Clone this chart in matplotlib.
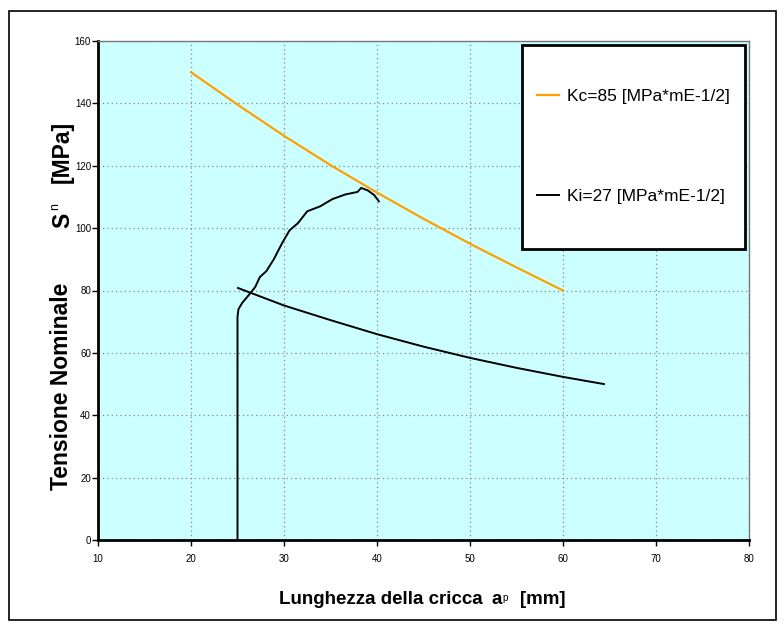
import matplotlib.pyplot as plt
from matplotlib.patches import Rectangle

# Kc curve (orange)
kc_x = [20, 25, 30, 35, 40, 45, 50, 55, 60]
kc_y = [150.0, 139.6, 129.6, 120.2, 111.4, 103.0, 95.0, 87.4, 80.0]

# Ki curve (black, decreasing)
ki_x = [25.05, 30, 35, 40, 45, 50, 55, 60, 64.4]
ki_y = [80.8, 75.2, 70.5, 66.0, 62.0, 58.4, 55.2, 52.3, 50.0]

# crack growth path (black)
gr_x = [25.0, 25.0, 25.1, 25.5, 26.2, 26.9, 27.2, 27.4, 28.1, 28.9, 29.8, 30.6,
        31.5, 32.5, 33.9, 35.2, 36.6, 37.9, 38.3, 39.0, 39.7, 40.2]
gr_y = [0.0, 71.5, 74.0, 76.0, 78.5, 81.1, 83.0, 84.3, 86.2, 90.0, 95.2, 99.3,
        101.6, 105.4, 107.0, 109.3, 110.8, 111.6, 112.9, 112.1, 110.6, 108.6]

kc_label = "Kc=85 [MPa*mE-1/2]"
ki_label = "Ki=27 [MPa*mE-1/2]"

plt.rcParams['font.family'] = ['Liberation Sans', 'DejaVu Sans']

W, H = 784, 625
fig = plt.figure(figsize=(W / 100, H / 100), dpi=100)
L, R, T, B = 98, 749, 41, 540
ax = fig.add_axes([L / W, 1 - B / H, (R - L) / W, (B - T) / H])
ax.set_facecolor('#CCFFFF')

ax.plot(kc_x, kc_y, color='#FFA000', lw=1.6, label=kc_label)
ax.plot(ki_x, ki_y, color='black', lw=1.4, label=ki_label)
ax.plot(gr_x, gr_y, color='black', lw=1.4)

ax.set_xlim(10, 80)
ax.set_ylim(0, 160)
ax.set_xticks(range(10, 81, 10))
ax.set_yticks(range(0, 161, 20))
ax.grid(True, color='#888888', linestyle=(0, (1, 2.5)), lw=0.9)
ax.tick_params(axis='x', labelsize=7, length=4, width=1, pad=6)
ax.tick_params(axis='y', labelsize=7, length=4, width=1, pad=1)

for s in ['top', 'right']:
    ax.spines[s].set_color('#777777')
    ax.spines[s].set_linewidth(1)
for s in ['left', 'bottom']:
    ax.spines[s].set_color('black')
    ax.spines[s].set_linewidth(2)

# legend frame drawn as a box, entries placed inside it
ax.add_patch(Rectangle(((522 - L) / (R - L), (B - 249) / (B - T)),
                       (745 - 522) / (R - L), (249 - 45) / (B - T),
                       transform=ax.transAxes, facecolor='white', edgecolor='black',
                       lw=2, zorder=4))
leg = ax.legend(loc='upper left', bbox_to_anchor=((537 - L) / (R - L), (B - 89) / (B - T)),
                fontsize=12.5, frameon=False, borderpad=0,
                labelspacing=4.9, handlelength=1.25, handletextpad=0.45,
                borderaxespad=0)
leg.set_zorder(5)

# y axis label pieces
fig.text(62 / W, 1 - 386 / H, "Tensione Nominale", rotation=90, ha='center', va='center',
         fontsize=16.5, fontweight='bold')
fig.text(63 / W, 1 - 220 / H, "S", rotation=90, ha='center', va='center',
         fontsize=16.5, fontweight='bold')
fig.text(55 / W, 1 - 206 / H, "n", rotation=90, ha='center', va='center', fontsize=9)
fig.text(62 / W, 1 - 152 / H, "[MPa]", rotation=90, ha='center', va='center',
         fontsize=16.5, fontweight='bold')

# x axis label pieces
fig.text(279 / W, 1 - 604 / H, "Lunghezza della cricca", ha='left', va='baseline',
         fontsize=13.5, fontweight='bold')
fig.text(491 / W, 1 - 604 / H, "a", ha='left', va='baseline', fontsize=13.5,
         fontweight='bold')
fig.text(502 / W, 1 - 601 / H, "p", ha='left', va='baseline', fontsize=7)
fig.text(520 / W, 1 - 604 / H, "[mm]", ha='left', va='baseline', fontsize=13.5,
         fontweight='bold')

fig.add_artist(Rectangle((9 / W, 1 - 620 / H), (776 - 9) / W, (620 - 11) / H,
                         transform=fig.transFigure, fill=False, edgecolor='black', lw=1.2))

plt.savefig('out.png', dpi=100, facecolor='white')
